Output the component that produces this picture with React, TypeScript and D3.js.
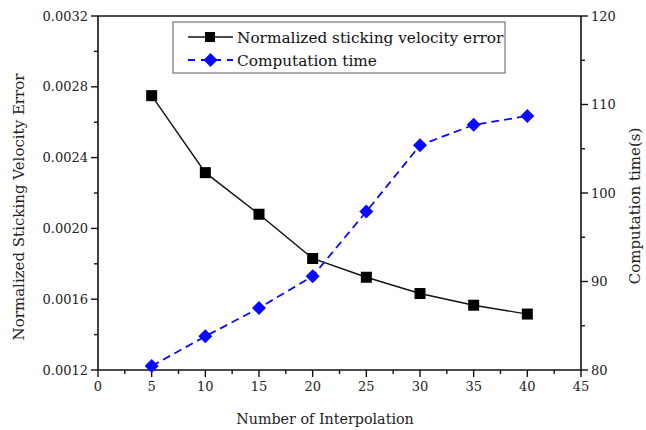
import React from "react";
import * as d3 from "d3";

const xValues = [5, 10, 15, 20, 25, 30, 35, 40];
const errorValues = [0.00275, 0.002315, 0.00208, 0.00183, 0.001724, 0.001632, 0.001566, 0.001516];
const timeValues = [80.45, 83.8, 87.0, 90.6, 97.9, 105.4, 107.7, 108.7];
const xTicks = [0, 5, 10, 15, 20, 25, 30, 35, 40, 45];
const leftTicks = [0.0012, 0.0016, 0.002, 0.0024, 0.0028, 0.0032];
const rightTicks = [80, 90, 100, 110, 120];
const legendLabels = ["Normalized sticking velocity error", "Computation time"];

const W = 646, H = 430;
const L = 98, R = 581, T = 16, B = 370;
const FONT = "DejaVu Serif, serif";
const BLUE = "#0a0aff";

export default function App() {
  const x = d3.scaleLinear().domain([0, 45]).range([L, R]);
  const yL = d3.scaleLinear().domain([0.0012, 0.0032]).range([B, T]);
  const yR = d3.scaleLinear().domain([80, 120]).range([B, T]);

  const lineErr = d3.line<number>().x((_, i) => x(xValues[i])).y((d) => yL(d));
  const lineTime = d3.line<number>().x((_, i) => x(xValues[i])).y((d) => yR(d));

  const xMinor = d3.range(0, 45, 2.5).filter((v) => v % 5 !== 0);
  const lMinor = d3.range(0, 5).map((i) => 0.0014 + i * 0.0004);
  const rMinor = [85, 95, 105, 115];

  const diamond = (cx: number, cy: number, r: number) =>
    `M${cx},${cy - r}L${cx + r},${cy}L${cx},${cy + r}L${cx - r},${cy}Z`;

  return (
    <svg width={W} height={H} style={{ position: "absolute", left: 0, top: 0, background: "#fff" }}>
      <rect x={0} y={0} width={W} height={H} fill="#fff" />
      <g stroke="#111" strokeWidth={1.6} fill="none">
        <line x1={L} y1={T} x2={R} y2={T} />
        <line x1={L} y1={B} x2={R} y2={B} />
        <line x1={L} y1={T} x2={L} y2={B} />
        <line x1={R} y1={T} x2={R} y2={B} />
      </g>
      <g stroke="#111" strokeWidth={1.4}>
        {xTicks.map((t) => (
          <line key={"xt" + t} x1={x(t)} y1={B} x2={x(t)} y2={B + 7} />
        ))}
        {xMinor.map((t) => (
          <line key={"xm" + t} x1={x(t)} y1={B} x2={x(t)} y2={B + 4} />
        ))}
        {leftTicks.map((t) => (
          <line key={"lt" + t} x1={L - 7} y1={yL(t)} x2={L} y2={yL(t)} />
        ))}
        {lMinor.map((t) => (
          <line key={"lm" + t} x1={L - 4} y1={yL(t)} x2={L} y2={yL(t)} />
        ))}
        {rightTicks.map((t) => (
          <line key={"rt" + t} x1={R} y1={yR(t)} x2={R + 7} y2={yR(t)} />
        ))}
        {rMinor.map((t) => (
          <line key={"rm" + t} x1={R} y1={yR(t)} x2={R + 4} y2={yR(t)} />
        ))}
      </g>
      <g fontFamily={FONT} fontSize={13} fill="#222">
        {xTicks.map((t) => (
          <text key={"xl" + t} x={x(t)} y={B + 21} textAnchor="middle">
            {t}
          </text>
        ))}
        {leftTicks.map((t) => (
          <text key={"ll" + t} x={L - 10} y={yL(t) + 4.5} textAnchor="end">
            {t.toFixed(4)}
          </text>
        ))}
        {rightTicks.map((t) => (
          <text key={"rl" + t} x={R + 10} y={yR(t) + 4.5} textAnchor="start">
            {t}
          </text>
        ))}
      </g>
      <g fontFamily={FONT} fontSize={15} fill="#222">
        <text x={325} y={424} textAnchor="middle" fontSize={14.3}>Number of Interpolation</text>
        <text transform={`translate(24,207) rotate(-90)`} textAnchor="middle">
          Normalized Sticking Velocity Error
        </text>
        <text transform={`translate(640,206) rotate(-90)`} textAnchor="middle">
          Computation time(s)
        </text>
      </g>
      <path d={lineErr(errorValues) || ""} fill="none" stroke="#111" strokeWidth={1.4} />
      {errorValues.map((v, i) => (
        <rect key={"sq" + i} x={x(xValues[i]) - 5.5} y={yL(v) - 5.5} width={11} height={11} fill="#000" />
      ))}
      <path
        d={lineTime(timeValues) || ""}
        fill="none"
        stroke={BLUE}
        strokeWidth={1.8}
        strokeDasharray="8,5"
      />
      {timeValues.map((v, i) => (
        <path key={"dm" + i} d={diamond(x(xValues[i]), yR(v), 7)} fill={BLUE} />
      ))}
      <rect x={173} y={22} width={332} height={51} fill="#fff" stroke="#777" strokeWidth={1.2} />
      <line x1={188} y1={37} x2={233} y2={37} stroke="#111" strokeWidth={1.6} />
      <rect x={205} y={32} width={10} height={10} fill="#000" />
      <line x1={188} y1={60} x2={233} y2={60} stroke={BLUE} strokeWidth={1.8} strokeDasharray="7,6" />
      <path d={diamond(210.5, 60, 7)} fill={BLUE} />
      <g fontFamily={FONT} fontSize={15.3} fill="#111">
        <text x={237} y={42.5}>{legendLabels[0]}</text>
        <text x={237} y={65.5}>{legendLabels[1]}</text>
      </g>
    </svg>
  );
}
